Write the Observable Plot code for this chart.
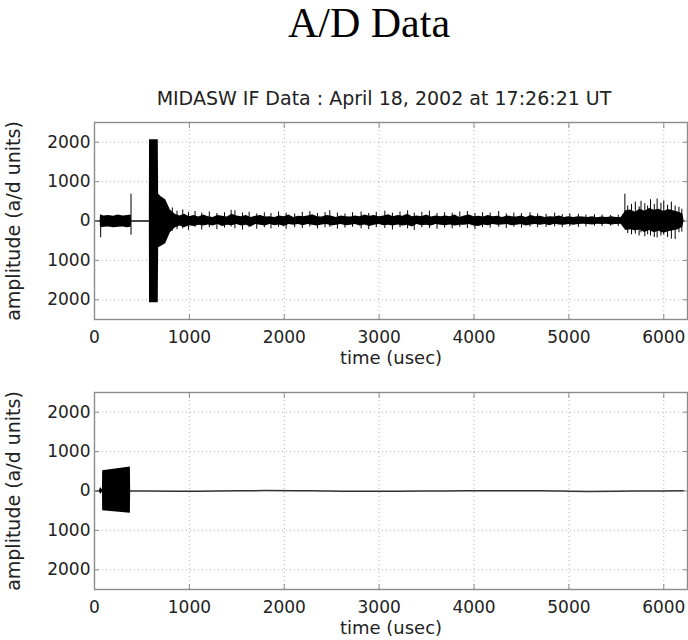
<!DOCTYPE html>
<html>
<head>
<meta charset="utf-8">
<script src="https://cdn.jsdelivr.net/npm/d3@7"></script>
<script src="https://cdn.jsdelivr.net/npm/@observablehq/plot@0.6"></script>
<style>
  html, body { margin: 0; padding: 0; background: white; }
  #wrap { position: relative; width: 688px; height: 640px; overflow: hidden; }
  #title { position: absolute; left: 50px; right: 0; top: 2px; text-align: center;
           font-family: "Liberation Serif", serif; font-size: 42px; line-height: 42px; color: #000; }
  #subtitle { position: absolute; left: 0; width: 768px; top: 89px; text-align: center;
           font-family: "DejaVu Sans", sans-serif; font-size: 19px; line-height: 19px; color: #222; }
  #p1 { position: absolute; left: 0; top: 110px; }
  #p2 { position: absolute; left: 0; top: 380px; }
</style>
</head>
<body>
<div id="wrap">
  <div id="title"></div>
  <div id="subtitle"></div>
  <div id="p1"></div>
  <div id="p2"></div>
</div>
<script>
const titleText = "A/D Data";
const subtitleText = "MIDASW IF Data : April 18, 2002 at 17:26:21 UT";
const xLabel = "time (usec)";
const yLabel = "amplitude (a/d units)";

const xTicks = [0, 1000, 2000, 3000, 4000, 5000, 6000];
const xTickLabels = ["0", "1000", "2000", "3000", "4000", "5000", "6000"];
const yTicks = [2000, 1000, 0, -1000, -2000];
const yTickLabels = ["2000", "1000", "0", "1000", "2000"];

// ---- top panel: raw IF data (core envelope of the trace) ----
const envTime = [0, 60, 63, 100, 150, 200, 250, 300, 350, 387, 390, 578, 580, 672, 676,
  700, 750, 800, 850, 900, 950, 1000, 1050, 1100, 1150,
  1200, 1250, 1300, 1350, 1400, 1450, 1500, 1550, 1600, 1650,
  1700, 1750, 1800, 1850, 1900, 1950, 2000, 2050, 2100, 2150,
  2200, 2250, 2300, 2350, 2400, 2450, 2500, 2550, 2600, 2650,
  2700, 2750, 2800, 2850, 2900, 2950, 3000, 3050, 3100, 3150,
  3200, 3250, 3300, 3350, 3400, 3450, 3500, 3550, 3600, 3650,
  3700, 3750, 3800, 3850, 3900, 3950, 4000, 4050, 4100, 4150,
  4200, 4250, 4300, 4350, 4400, 4450, 4500, 4550, 4600, 4650,
  4700, 4750, 4800, 4850, 4900, 4950, 5000, 5050, 5100, 5150,
  5200, 5250, 5300, 5350, 5400, 5450, 5500, 5550, 5600, 5650,
  5700, 5750, 5800, 5850, 5900, 5950, 6000, 6050, 6100, 6150,
  6200, 6215];
const envHigh = [0, 0, 150, 130, 140, 120, 150, 130, 140, 150, 0, 0, 2060, 2060, 680,
  620, 540, 280, 170, 130, 170, 110, 140, 100, 150,
  110, 90, 140, 120, 100, 170, 130, 110, 140, 90,
  120, 140, 100, 110, 90, 130, 110, 150, 90, 120,
  110, 130, 160, 110, 100, 140, 120, 90, 130, 110,
  100, 130, 110, 150, 120, 140, 110, 130, 160, 110,
  140, 120, 170, 110, 130, 110, 150, 100, 130, 110,
  130, 110, 150, 90, 130, 150, 110, 120, 100, 140,
  110, 120, 90, 130, 110, 100, 130, 90, 140, 110,
  120, 90, 110, 100, 130, 90, 110, 90, 110, 100,
  90, 110, 80, 100, 90, 110, 90, 90, 260, 280,
  220, 300, 250, 320, 270, 300, 240, 290, 260, 230,
  180, 0];
const envLow = [0, 0, -170, -160, -150, -170, -160, -150, -170, -160, 0, 0, -2075, -2075, -680,
  -650, -580, -300, -180, -130, -170, -120, -140, -110, -130,
  -100, -130, -90, -140, -110, -120, -90, -130, -110, -150,
  -90, -110, -130, -90, -120, -100, -140, -90, -110, -90,
  -120, -90, -110, -130, -100, -90, -130, -110, -90, -120,
  -110, -90, -130, -100, -140, -110, -90, -120, -110, -130,
  -100, -130, -110, -150, -90, -120, -110, -130, -90, -110,
  -120, -100, -130, -110, -110, -90, -130, -140, -100, -120,
  -90, -110, -100, -90, -120, -110, -90, -130, -100, -90,
  -110, -90, -120, -80, -100, -110, -90, -110, -90, -80,
  -90, -100, -80, -90, -80, -100, -90, -80, -240, -220,
  -250, -230, -290, -240, -300, -260, -310, -270, -250, -220,
  -160, 0];

// individual excursions of the trace beyond the core band
const spikeTime = [65, 385,
  820, 870, 930, 990, 1060, 1130, 1210, 1290, 1370, 1440, 1480, 1560, 1630, 1710, 1790, 1860, 1940,
  2020, 2110, 2190, 2270, 2350, 2430, 2480, 2560, 2640, 2720, 2810, 2890, 2970,
  3060, 3140, 3220, 3300, 3370, 3450, 3530, 3610, 3690, 3770, 3850, 3930,
  4010, 4090, 4170, 4260, 4340, 4420, 4500, 4590, 4670, 4760, 4850, 4930,
  5010, 5100, 5180, 5270, 5350, 5440, 5520, 5590,
  5620, 5660, 5700, 5740, 5760, 5800, 5830, 5860, 5900, 5930, 5970, 6000, 6040, 6080, 6120, 6160, 6190];
const spikeHigh = [150, 680,
  330, 250, 280, 220, 240, 200, 230, 190, 210, 270, 260, 200, 220, 180, 210, 190, 230,
  200, 180, 220, 240, 190, 210, 260, 200, 180, 210, 230, 190, 220,
  250, 200, 230, 260, 200, 220, 250, 190, 210, 200, 230, 240,
  190, 210, 200, 240, 180, 200, 190, 210, 180, 170, 200, 160,
  180, 170, 150, 160, 150, 140, 150, 680,
  380, 420, 480, 360, 500, 440, 380, 540, 420, 560, 450, 510, 400, 480, 380, 350, 300];
const spikeLow = [-425, -360,
  -260, -220, -200, -240, -160, -230, -170, -220, -180, -150, -200, -230, -170, -210, -170, -200, -160,
  -210, -170, -190, -150, -200, -170, -160, -210, -180, -160, -200, -220, -170,
  -190, -230, -170, -200, -240, -170, -190, -210, -180, -200, -160, -190,
  -220, -170, -180, -160, -190, -160, -180, -150, -170, -160, -150, -170,
  -140, -160, -150, -130, -140, -130, -140, -150,
  -320, -350, -330, -380, -300, -400, -350, -380, -420, -430, -380, -360, -420, -460, -470, -300, -280];
const zeroTime = [0, 6215];
const zeroValue = [0, 0];

// ---- bottom panel: filtered data ----
const bEnvTime = [50, 65, 80, 84, 86, 378, 381];
const bEnvHigh = [0, 90, 40, 40, 516, 611, 10];
const bEnvLow = [0, -90, -40, -40, -504, -567, -10];
const bLineTime = [0, 380, 800, 1300, 1800, 2300, 2700, 3200, 3700, 4200, 4700, 5200, 5700, 6210];
const bLineValue = [0, 0, -8, 0, 10, 5, -8, -5, 3, 8, 5, -10, -3, 5];

document.getElementById("title").textContent = titleText;
document.getElementById("subtitle").textContent = subtitleText;

const frameColor = "#8c8c8c";
const gridColor = "#b4b4b4";
const textColor = "#222";

function panel(dataMarks) {
  const H = 260, mt = 12, mb = 51;
  return Plot.plot({
    width: 688, height: H,
    marginTop: mt, marginBottom: mb, marginLeft: 94, marginRight: 1,
    style: { fontFamily: "DejaVu Sans, sans-serif", fontSize: "17px", color: textColor, background: "white", overflow: "visible" },
    x: { domain: [0, 6250] },
    y: { domain: [-2500, 2500] },
    marks: [
      Plot.gridX(xTicks, { stroke: gridColor, strokeOpacity: 1, strokeDasharray: "1,3" }),
      Plot.gridY(yTicks, { stroke: gridColor, strokeOpacity: 1, strokeDasharray: "1,3" }),
      ...dataMarks,
      Plot.frame({ stroke: frameColor, strokeWidth: 1.4 }),
      Plot.axisX(xTicks, { anchor: "bottom", tickSize: -5, fill: "none", stroke: frameColor, label: null }),
      Plot.axisX(xTicks, { anchor: "top", tickSize: -5, fill: "none", stroke: frameColor, label: null }),
      Plot.axisY(yTicks, { anchor: "left", tickSize: -5, fill: "none", stroke: frameColor, label: null }),
      Plot.axisY(yTicks, { anchor: "right", tickSize: -5, fill: "none", stroke: frameColor, label: null }),
      Plot.axisX(xTicks, { anchor: "bottom", tickSize: 0, tickPadding: 11, label: null, fill: textColor,
        tickFormat: d => xTickLabels[xTicks.indexOf(d)] }),
      Plot.axisY(yTicks, { anchor: "left", tickSize: 0, tickPadding: 4, label: null, fill: textColor,
        tickFormat: d => yTickLabels[yTicks.indexOf(d)] }),
      Plot.text([xLabel], { frameAnchor: "bottom", lineAnchor: "bottom", dy: 44.5, fontSize: 18, fill: textColor }),
      Plot.text([yLabel], { frameAnchor: "left", textAnchor: "middle", lineAnchor: "bottom", rotate: -90, dx: -75, fontSize: 19, fill: textColor })
    ]
  });
}

const topChart = panel([
  Plot.lineY(zeroValue, { x: zeroTime, y: d => d, stroke: "#111", strokeWidth: 1.4 }),
  Plot.areaY(envTime, { x: d => d, y1: (d, i) => envLow[i], y2: (d, i) => envHigh[i], fill: "#000", curve: "linear" }),
  Plot.ruleX(spikeTime, { x: d => d, y1: (d, i) => spikeLow[i], y2: (d, i) => spikeHigh[i], stroke: "#000", strokeWidth: 1 })
]);
document.getElementById("p1").appendChild(topChart);

const bottomChart = panel([
  Plot.lineY(bLineValue, { x: bLineTime, y: d => d, stroke: "#333", strokeWidth: 1.5, curve: "monotone-x" }),
  Plot.areaY(bEnvTime, { x: d => d, y1: (d, i) => bEnvLow[i], y2: (d, i) => bEnvHigh[i], fill: "#000", curve: "linear" })
]);
document.getElementById("p2").appendChild(bottomChart);
</script>
</body>
</html>
